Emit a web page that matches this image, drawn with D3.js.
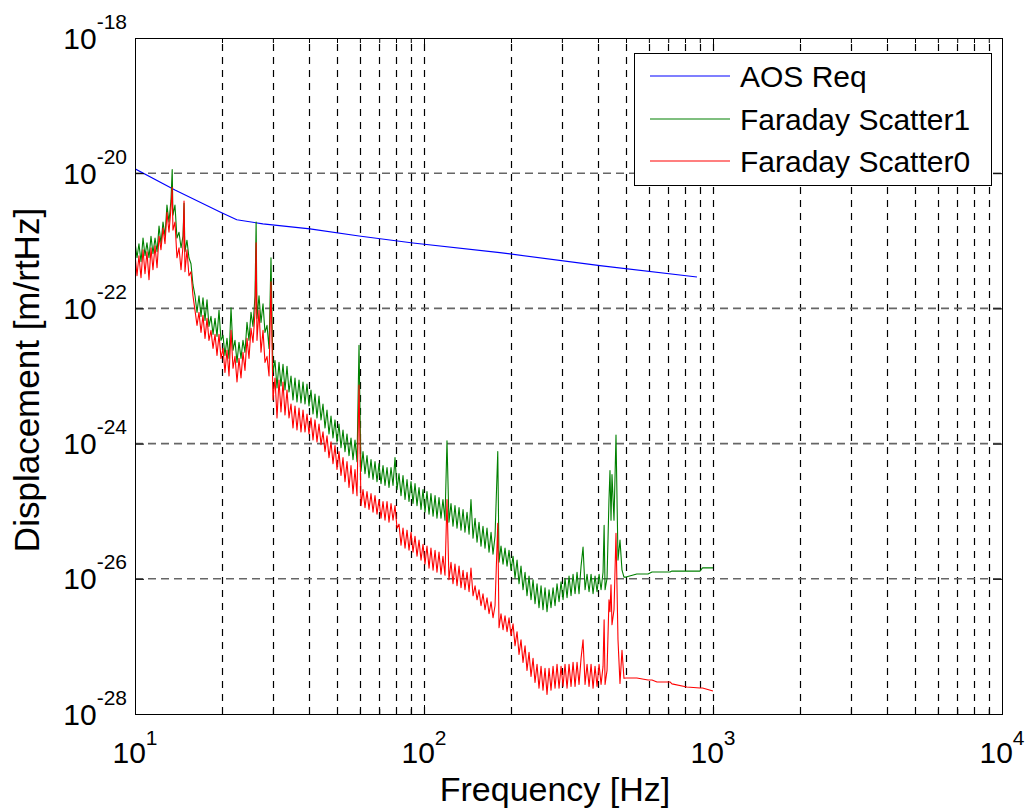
<!DOCTYPE html>
<html><head><meta charset="utf-8">
<script src="https://cdn.jsdelivr.net/npm/d3@7"></script>
<style>
body{margin:0;background:#fff}
text{font-family:"Liberation Sans",Arial,Helvetica,sans-serif;fill:#000}
</style>
</head><body>
<svg id="chart" width="1029" height="809"></svg>
<script>
// ---------- data ----------
const xTickExps = [1, 2, 3, 4];
const yTickExps = [-28, -26, -24, -22, -20, -18];
const xLabel = "Frequency [Hz]";
const yLabel = "Displacement [m/rtHz]";
const seriesNames = ["AOS Req", "Faraday Scatter1", "Faraday Scatter0"];

const aosFreq = [10, 13.75, 19.7, 22.5, 27.7, 40.3, 59.6, 91.6, 183, 406, 880];
const aosReq  = [1.16e-20, 5.64e-21, 2.67e-21, 2.05e-21, 1.78e-21, 1.50e-21, 1.18e-21, 9.28e-22, 6.69e-22, 4.29e-22, 2.92e-22];

const freqHz = [
  10.0,10.16,10.32,10.49,10.66,10.83,11.0,11.18,11.36,11.54,11.73,11.92,12.11,12.30,12.5,12.70,12.9,13.11,13.32,
  13.45,13.53,13.75,13.97,14.2,14.43,14.66,14.78,
  14.89,15.13,15.37,15.62,15.87,16.13,16.39,16.65,16.92,17.19,17.47,17.75,18.03,18.32,18.62,18.92,19.22,19.53,
  19.84,20.16,20.48,20.81,21.15,21.49,21.83,22.18,22.54,22.9,23.27,23.64,24.02,24.41,24.80,25.2,25.60,26.02,
  26.25,26.43,26.86,27.29,27.73,28.17,28.63,29.09,29.55,
  30.02,30.51,31.00,31.5,32.00,32.52,33.04,33.57,34.11,34.66,35.21,35.78,36.35,36.94,37.53,38.14,38.75,39.37,
  40.00,40.64,41.30,41.96,42.63,43.32,44.02,44.72,45.44,46.17,46.91,47.67,48.43,49.21,50.0,50.8,51.62,52.45,
  53.29,54.15,55.02,55.9,56.80,57.71,58.64,
  59.58,60.54,61.51,62.50,63.5,64.52,65.56,66.62,67.68,68.77,69.88,71.0,72.14,73.30,74.48,75.67,76.89,78.13,
  79.38,80.66,81.95,83.27,84.6,85.97,87.35,88.75,90.17,91.62,93.1,94.59,96.11,97.66,99.21,100.8,102.4,104.1,
  105.7,107.5,109.2,110.9,112.7,114.5,116.3,118.2,
  120.1,122.0,124.0,126.0,128.0,130.1,132.2,134.3,136.5,138.6,140.9,143.2,145.4,147.8,150.2,152.6,155.0,157.5,
  160.0,162.6,165.2,167.9,170.6,173.3,176.1,
  180.0,181.8,184.7,187.7,190.7,193.8,196.9,200.0,203.3,206.5,209.9,213.2,216.6,220.1,223.7,227.2,230.9,234.6,
  238.4,242.2,246.1,250.0,254.1,258.1,262.3,266.5,270.8,275.1,279.6,284.1,288.6,293.3,298.0,302.8,307.6,312.6,
  317.6,322.7,327.9,333.2,338.5,343.9,349.5,
  355.1,360.8,366.6,372.5,378.5,384.6,390.7,397.0,403.4,409.9,416.4,420.0,423.2,429.9,
  436.6,440.1,443.7,447.2,454.4,461.7,469.1,476.6,484.3,492.0,
  500,545,596,615,640,710,721,812,901,920,1000
];
const scatter1 = [
  9.67e-22,5.61e-22,9.03e-22,4.89e-22,1.10e-21,6.00e-22,9.34e-22,5.61e-22,1.17e-21,6.43e-22,1.10e-21,6.88e-22,1.65e-21,9.03e-22,1.89e-21,1.17e-21,3.37e-21,1.89e-21,3.99e-21,
  1.13e-20,2.40e-21,3.37e-21,1.10e-21,1.34e-21,7.88e-22,1.17e-21,3.60e-21,
  6.88e-22,1.02e-21,5.61e-22,4.57e-22,2.24e-22,1.54e-22,8.73e-23,1.54e-22,7.62e-23,1.44e-22,6.65e-23,1.34e-22,5.42e-23,7.62e-23,4.13e-23,7.12e-23,3.86e-23,9.34e-23,
  3.37e-23,3.99e-23,2.02e-23,3.60e-23,1.82e-23,1.02e-22,2.40e-23,3.37e-23,1.59e-23,3.14e-23,1.82e-23,3.37e-23,2.24e-23,6.21e-23,3.37e-23,8.73e-23,5.42e-23,1.54e-22,
  1.89e-21,7.12e-23,1.54e-22,6.21e-23,1.17e-22,4.42e-23,5.61e-23,2.56e-23,5.61e-22,
  1.13e-23,1.70e-23,6.65e-24,1.59e-23,7.12e-24,1.49e-23,6.21e-24,1.39e-23,5.80e-24,1.00e-23,4.42e-24,9.34e-24,4.13e-24,8.73e-24,3.99e-24,8.15e-24,3.86e-24,7.62e-24,
  3.60e-24,6.21e-24,2.74e-24,5.42e-24,2.40e-24,5.06e-24,2.24e-24,3.86e-24,1.70e-24,3.14e-24,1.39e-24,2.56e-24,1.21e-24,2.24e-24,1.06e-24,1.95e-24,8.73e-25,1.59e-24,
  7.62e-25,1.39e-24,6.65e-25,1.21e-24,5.80e-25,1.13e-24,5.42e-25,
  2.84e-23,3.86e-25,7.62e-25,3.60e-25,6.65e-25,3.14e-25,5.80e-25,2.94e-25,5.42e-25,2.74e-25,5.06e-25,2.56e-25,4.73e-25,2.40e-25,4.42e-25,2.24e-25,4.42e-25,2.40e-25,
  6.21e-25,2.09e-25,3.60e-25,1.70e-25,3.37e-25,1.49e-25,2.94e-25,1.39e-25,2.74e-25,1.30e-25,2.56e-25,1.21e-25,2.24e-25,1.06e-25,2.09e-25,9.67e-26,1.95e-25,9.03e-26,
  1.82e-25,8.44e-26,1.70e-25,7.88e-26,1.59e-25,7.88e-26,1.49e-25,7.36e-26,
  1.10e-24,6.88e-26,1.30e-25,6.00e-26,1.21e-25,5.61e-26,1.13e-25,5.24e-26,1.06e-25,4.89e-26,9.67e-26,4.57e-26,1.49e-25,3.99e-26,7.88e-26,3.48e-26,6.88e-26,3.04e-26,
  6.00e-26,2.84e-26,5.61e-26,2.48e-26,4.89e-26,2.32e-26,4.27e-26,
  7.62e-25,1.76e-26,3.04e-26,1.65e-26,2.84e-26,1.54e-26,2.65e-26,1.34e-26,2.16e-26,1.02e-26,1.89e-26,8.44e-27,1.54e-26,6.88e-27,1.25e-26,5.61e-27,1.10e-26,4.89e-27,
  9.67e-27,4.27e-27,8.44e-27,3.73e-27,7.88e-27,3.48e-27,7.36e-27,3.25e-27,6.88e-27,3.73e-27,7.36e-27,3.99e-27,8.44e-27,4.57e-27,9.03e-27,4.89e-27,1.02e-26,5.24e-27,
  1.10e-26,5.61e-27,1.17e-26,6.00e-27,1.25e-26,6.00e-27,1.54e-26,
  2.94e-26,6.88e-27,1.17e-26,6.43e-27,1.17e-26,6.00e-27,1.10e-26,6.43e-27,1.17e-26,6.88e-27,1.25e-26,6.21e-26,6.88e-27,1.02e-26,
  1.49e-25,3.99e-25,7.36e-26,3.48e-25,7.36e-26,1.34e-24,1.89e-26,3.73e-26,1.34e-26,1.06e-26,
  1.06e-26,1.18e-26,1.18e-26,1.26e-26,1.26e-26,1.26e-26,1.30e-26,1.30e-26,1.30e-26,1.45e-26,1.45e-26
];
const scatter0 = [
  6.43e-22,3.04e-22,6.00e-22,2.84e-22,7.36e-22,3.25e-22,6.88e-22,2.65e-22,7.88e-22,3.73e-22,8.44e-22,3.99e-22,1.17e-21,7.36e-22,1.54e-21,9.03e-22,2.65e-21,1.34e-21,3.04e-21,
  6.21e-21,1.44e-21,1.89e-21,5.61e-22,7.88e-22,3.73e-22,8.44e-22,3.86e-21,
  3.48e-22,7.36e-22,3.04e-22,3.48e-22,1.54e-22,9.34e-23,5.61e-23,8.73e-23,4.42e-23,7.88e-23,3.60e-23,7.12e-23,3.37e-23,4.73e-23,2.56e-23,4.13e-23,2.02e-23,4.13e-23,
  1.82e-23,2.56e-23,1.13e-23,2.40e-23,1.00e-23,4.73e-23,1.30e-23,1.95e-23,8.15e-24,1.82e-23,9.34e-24,2.24e-23,1.21e-23,3.60e-23,1.82e-23,5.06e-23,3.14e-23,8.73e-23,
  9.34e-22,3.37e-23,9.34e-23,2.24e-23,4.73e-23,1.59e-23,1.95e-23,1.00e-23,2.48e-22,
  4.42e-24,9.34e-24,2.40e-24,8.73e-24,2.94e-24,8.15e-24,2.65e-24,6.21e-24,2.40e-24,3.86e-24,1.70e-24,3.60e-24,1.59e-24,3.37e-24,1.49e-24,3.14e-24,1.49e-24,2.74e-24,
  1.39e-24,2.40e-24,1.13e-24,2.24e-24,1.06e-24,1.95e-24,9.67e-25,1.49e-24,7.62e-25,1.30e-24,6.21e-25,1.06e-24,5.06e-25,9.34e-25,4.13e-25,7.62e-25,3.37e-25,6.21e-25,
  2.74e-25,5.42e-25,2.24e-25,4.73e-25,1.82e-25,4.13e-25,1.70e-25,
  7.36e-24,1.21e-25,2.09e-25,1.13e-25,1.95e-25,1.06e-25,1.82e-25,9.67e-26,1.70e-25,9.03e-26,1.49e-25,7.88e-26,1.39e-25,7.36e-26,1.39e-25,6.88e-26,1.30e-25,7.36e-26,
  1.21e-25,5.61e-26,6.43e-26,3.14e-26,5.61e-26,2.84e-26,5.24e-26,2.65e-26,4.89e-26,2.48e-26,4.27e-26,2.16e-26,3.73e-26,1.89e-26,3.25e-26,1.65e-26,3.04e-26,1.44e-26,
  2.84e-26,1.34e-26,2.65e-26,1.25e-26,2.48e-26,1.17e-26,2.16e-26,1.13e-26,
  1.49e-25,9.67e-27,1.76e-26,8.44e-27,1.65e-26,7.88e-27,1.54e-26,7.36e-27,1.34e-26,6.88e-27,1.25e-26,6.43e-27,1.44e-26,5.61e-27,7.88e-27,4.89e-27,6.88e-27,3.99e-27,
  6.00e-27,3.48e-27,5.24e-27,3.04e-27,4.57e-27,2.65e-27,3.99e-27,
  6.65e-26,1.89e-27,3.04e-27,1.76e-27,2.84e-27,1.65e-27,2.65e-27,1.44e-27,2.16e-27,1.02e-27,1.65e-27,7.62e-28,1.25e-27,5.80e-28,1.02e-27,4.42e-28,8.15e-28,3.60e-28,
  6.65e-28,2.94e-28,5.42e-28,2.40e-28,5.06e-28,2.24e-28,4.73e-28,1.95e-28,4.73e-28,2.24e-28,5.06e-28,2.40e-28,5.42e-28,2.40e-28,5.06e-28,2.56e-28,5.42e-28,2.40e-28,
  5.42e-28,2.56e-28,5.80e-28,2.56e-28,5.80e-28,2.74e-28,6.65e-28,
  1.25e-27,2.74e-28,5.42e-28,2.56e-28,5.42e-28,2.40e-28,5.06e-28,2.56e-28,5.42e-28,2.74e-28,5.06e-28,2.48e-27,2.74e-28,4.42e-28,
  4.89e-27,3.25e-27,8.15e-27,2.09e-27,3.48e-27,4.73e-26,1.25e-27,2.84e-28,8.73e-28,3.37e-28,
  3.41e-28,3.41e-28,3.19e-28,3.19e-28,2.98e-28,2.98e-28,2.79e-28,2.51e-28,2.43e-28,2.43e-28,2.19e-28
];

// ---------- layout ----------
const W = 1029, H = 809;
const M = {l: 135, t: 38, r: 1002, b: 714};
const colors = ["#0000ff", "#008000", "#ff0000"];

const svg = d3.select("#chart");
svg.append("rect").attr("width", W).attr("height", H).attr("fill", "#fff");

const x = d3.scaleLog().domain([10, 1e4]).range([M.l, M.r]);
const y = d3.scaleLog().domain([1e-28, 1e-18]).range([M.b, M.t]);

// grid
const xGridVals = [];
for (let d = 10; d < 1e4; d *= 10) for (let k = 1; k <= 9; k++) { const v = k * d; if (v > 10 && v < 1e4) xGridVals.push(v); }
svg.append("g").selectAll("line").data(xGridVals).join("line")
  .attr("x1", d => Math.round(x(d)) + 0.5).attr("x2", d => Math.round(x(d)) + 0.5)
  .attr("y1", M.b).attr("y2", M.t)
  .attr("stroke", "#000").attr("stroke-width", 1.2).attr("stroke-dasharray", "7,6");
const yGridVals = yTickExps.map(e => Math.pow(10, e)).filter(v => v > 1e-28 && v < 1e-18);
svg.append("g").selectAll("line").data(yGridVals).join("line")
  .attr("x1", M.l).attr("x2", M.r)
  .attr("y1", d => y(d)).attr("y2", d => y(d))
  .attr("stroke", "#666").attr("stroke-width", 1.6).attr("stroke-dasharray", "8,5");

// data lines
svg.append("clipPath").attr("id", "clip").append("rect")
  .attr("x", M.l).attr("y", M.t).attr("width", M.r - M.l).attr("height", M.b - M.t);
const line = d3.line().x(d => x(d[0])).y(d => y(d[1]));
const n = Math.min(freqHz.length, scatter1.length, scatter0.length);
const series = [
  d3.zip(aosFreq, aosReq),
  d3.zip(freqHz.slice(0, n), scatter1.slice(0, n)),
  d3.zip(freqHz.slice(0, n), scatter0.slice(0, n))
];
const plot = svg.append("g").attr("clip-path", "url(#clip)");
series.forEach((s, i) => {
  plot.append("path").attr("d", line(s)).attr("fill", "none")
    .attr("stroke", colors[i]).attr("stroke-width", 1.1).attr("stroke-linejoin", "round");
});

// axes (ticks inward)
const majX = xTickExps.map(e => Math.pow(10, e));
const minX = xGridVals.filter(v => !majX.includes(v));
const majY = yTickExps.map(e => Math.pow(10, e));
function tickAxis(axisFn, scale, vals, size, tr) {
  svg.append("g").attr("transform", tr)
    .call(axisFn(scale).tickValues(vals).tickSize(size).tickFormat(""))
    .call(g => g.select(".domain").remove())
    .selectAll("line").attr("stroke", "#000");
}
tickAxis(d3.axisBottom, x, majX, -9, `translate(0,${M.b})`);
tickAxis(d3.axisBottom, x, minX, -5, `translate(0,${M.b})`);
tickAxis(d3.axisTop, x, majX, -9, `translate(0,${M.t})`);
tickAxis(d3.axisTop, x, minX, -5, `translate(0,${M.t})`);
tickAxis(d3.axisLeft, y, majY, -9, `translate(${M.l},0)`);
tickAxis(d3.axisRight, y, majY, -9, `translate(${M.r},0)`);

// frame
svg.append("rect").attr("x", M.l + 0.5).attr("y", M.t + 0.5)
  .attr("width", M.r - M.l).attr("height", M.b - M.t)
  .attr("fill", "none").attr("stroke", "#000").attr("stroke-width", 1);

// tick labels
xTickExps.forEach(e => {
  const t = svg.append("text").attr("x", x(Math.pow(10, e))).attr("y", 763)
    .attr("text-anchor", "middle").attr("font-size", 30);
  t.append("tspan").text("10");
  t.append("tspan").attr("dy", -18).attr("font-size", 21).text(e);
});
yTickExps.forEach(e => {
  const t = svg.append("text").attr("x", 127).attr("y", y(Math.pow(10, e)) + 10.5)
    .attr("text-anchor", "end").attr("font-size", 30);
  t.append("tspan").text("10");
  t.append("tspan").attr("dy", -20).attr("font-size", 21).text(e);
});

// axis labels
svg.append("text").attr("x", 555).attr("y", 801)
  .attr("text-anchor", "middle").attr("font-size", 34).text(xLabel);
svg.append("text").attr("transform", `translate(39,380) rotate(-90)`)
  .attr("text-anchor", "middle").attr("font-size", 35).text(yLabel);

// legend
const lg = svg.append("g");
lg.append("rect").attr("x", 634.5).attr("y", 53.5).attr("width", 357).attr("height", 132)
  .attr("fill", "#fff").attr("stroke", "#000").attr("stroke-width", 1);
const legY = [76, 119, 161];
seriesNames.forEach((nm, i) => {
  lg.append("line").attr("x1", 650).attr("x2", 730).attr("y1", legY[i]).attr("y2", legY[i])
    .attr("stroke", colors[i]).attr("stroke-width", 1.1);
  lg.append("text").attr("x", 740).attr("y", legY[i] + 11).attr("font-size", 30).text(nm);
});
</script>
</body></html>
